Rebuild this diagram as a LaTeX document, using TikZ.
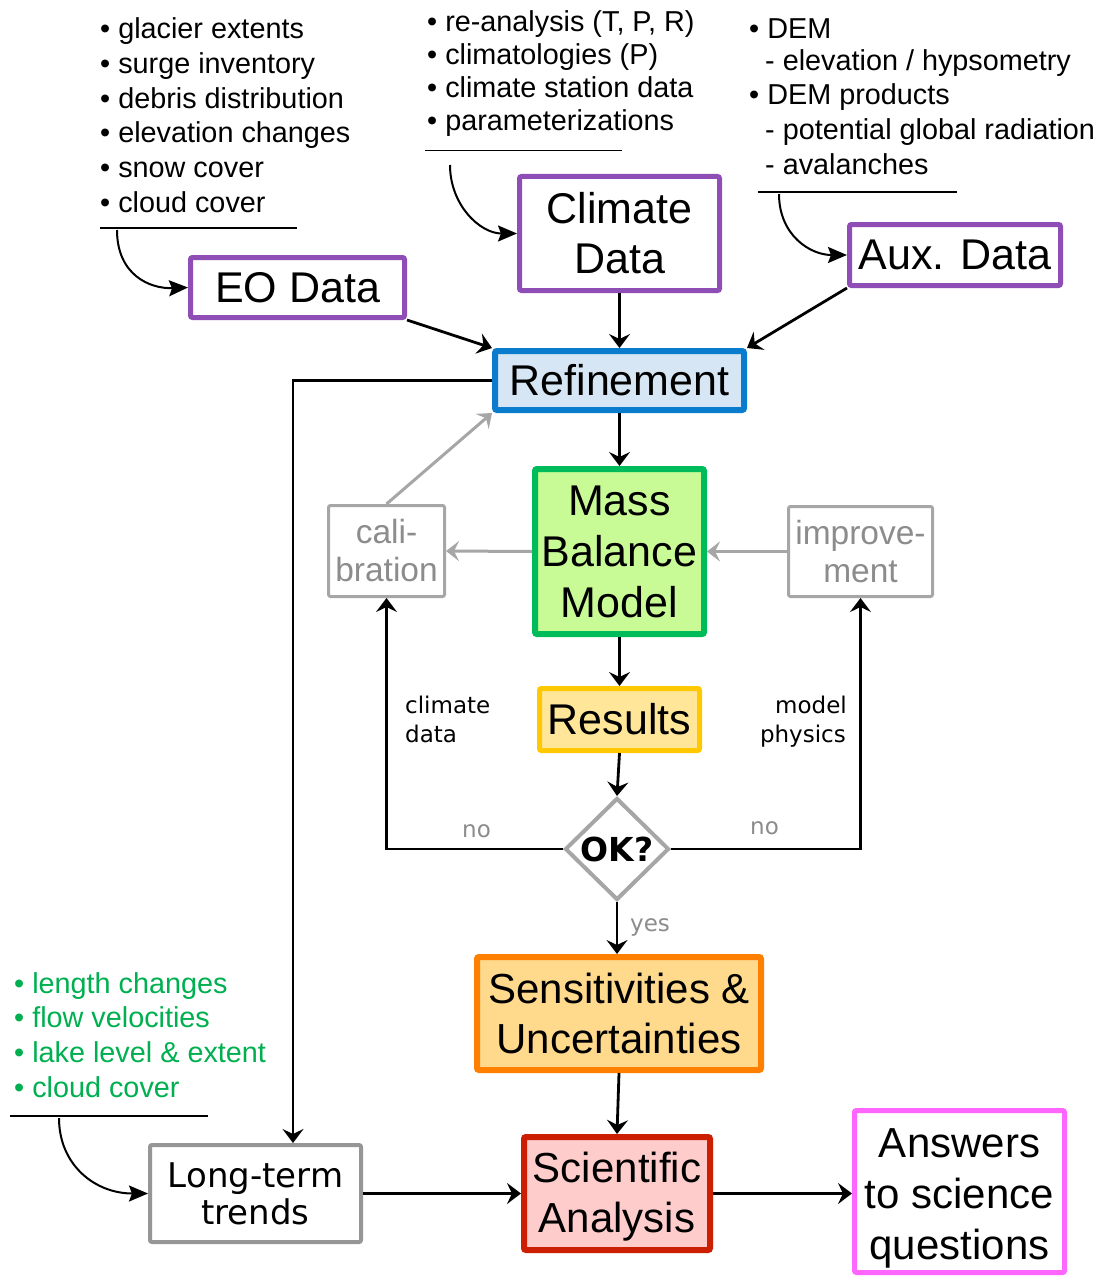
\documentclass[tikz,border=0pt]{standalone}
\usepackage{fontspec}
\setmainfont{Liberation Sans}
\newfontfamily\dv{DejaVu Sans}
\usetikzlibrary{arrows.meta,shapes.geometric}
\definecolor{purp}{RGB}{142,78,182}
\definecolor{refb}{RGB}{10,124,205}
\definecolor{reff}{RGB}{214,230,244}
\definecolor{mbmb}{RGB}{0,187,90}
\definecolor{mbmf}{RGB}{200,250,150}
\definecolor{resb}{RGB}{255,200,0}
\definecolor{resf}{RGB}{255,230,153}
\definecolor{sensb}{RGB}{255,128,0}
\definecolor{sensf}{RGB}{255,217,140}
\definecolor{scib}{RGB}{204,30,0}
\definecolor{scif}{RGB}{255,204,204}
\definecolor{ansb}{RGB}{255,102,255}
\definecolor{grayb}{RGB}{166,166,166}
\definecolor{grayd}{RGB}{150,150,150}
\definecolor{grayt}{RGB}{140,140,140}
\definecolor{greent}{RGB}{0,176,80}
\begin{document}
\begin{tikzpicture}[x=1pt,y=-1pt,
  box/.style={draw, rounded corners=2pt, inner sep=0pt, align=center, text=black},
  big/.style={font=\fontsize{43}{50}\selectfont},
  item/.style={anchor=base west, inner sep=0pt, font=\fontsize{28.8}{34}\selectfont},
  lbl/.style={inner sep=0pt, font=\dv\fontsize{23}{29}\selectfont},
  arr/.style={line width=2.8pt, -{Stealth[length=14pt,width=21pt,inset=5pt]}},
  garr/.style={line width=3pt, draw=grayb, -{Stealth[length=13pt,width=20pt,inset=5pt]}},
  carr/.style={line width=2pt, -{Stealth[length=19pt,width=16pt,inset=3pt]}},
  rulel/.style={line width=1.5pt},
]
\fill[white] (0,0) rectangle (1099,1276);
\useasboundingbox (0,0) rectangle (1099,1276);

% boxes
\node[box, big, draw=purp, line width=5pt, minimum width=214pt, minimum height=60pt] (eo) at (297.5,287.5) {EO Data};
\node[box, big, draw=purp, line width=5pt, minimum width=200pt, minimum height=114pt] (climate) at (619.5,233.5) {Climate\\Data};
\node[box, big, draw=purp, line width=5pt, minimum width=211pt, minimum height=61pt] (aux) at (955,255) {Aux. Data};
\node[box, big, draw=refb, fill=reff, line width=6pt, minimum width=249pt, minimum height=59pt] (refine) at (619.5,380.5) {Refinement};
\node[box, font=\fontsize{43}{51}\selectfont, draw=mbmb, fill=mbmf, line width=6pt, minimum width=169pt, minimum height=165pt] (mbm) at (619.5,551.5) {Mass\\Balance\\Model};
\node[box, font=\fontsize{33.5}{38}\selectfont, draw=grayb, text=grayt, line width=3pt, minimum width=116pt, minimum height=91pt] (cal) at (386.5,551) {cali-\\bration};
\node[box, font=\fontsize{33.5}{38}\selectfont, draw=grayb, text=grayt, line width=3pt, minimum width=144pt, minimum height=90pt] (imp) at (860.5,551.5) {improve-\\ment};
\node[box, big, draw=resb, fill=resf, line width=5pt, minimum width=160pt, minimum height=62pt] (res) at (619.5,719.5) {Results};
\node[shape=diamond, aspect=1, draw=grayb, line width=4pt, inner sep=0pt, minimum width=104pt, minimum height=102pt, font=\dv\bfseries\fontsize{33}{36}\selectfont] (ok) at (617,849) {OK?};
\node[box, font=\fontsize{42}{50}\selectfont, draw=sensb, fill=sensf, line width=6pt, minimum width=284pt, minimum height=113pt] (sens) at (619,1013.5) {Sensitivities \&\\Uncertainties};
\node[box, font=\fontsize{42}{50}\selectfont, draw=scib, fill=scif, line width=6pt, minimum width=186pt, minimum height=113pt] (sci) at (617,1193.5) {\rule{0pt}{37pt}Scientific\\Analysis};
\node[box, font=\fontsize{42}{51}\selectfont, draw=ansb, line width=5pt, minimum width=210pt, minimum height=162pt] (ans) at (959.5,1191.5) {\rule{0pt}{43pt}Answers\\to science\\questions};
\node[box, font=\dv\fontsize{34}{37}\selectfont, draw=grayd, line width=4pt, minimum width=211pt, minimum height=97pt] (ltt) at (255.5,1193.5) {Long-term\\trends};

% lists
\foreach \t [count=\i] in {glacier extents, surge inventory, debris distribution, elevation changes, snow cover, cloud cover}
  \node[item] (eol\i) at (100,{39+(\i-1)*34.6}) {• \t};
\foreach \t [count=\i] in {{re-analysis (T, P, R)}, {climatologies (P)}, climate station data, parameterizations}
  \node[item] (cll\i) at (427,{31.7+(\i-1)*32.8}) {• \t};
\node[item] (ax1) at (749,39) {• DEM};
\node[item] (ax2) at (765,70.7) {- elevation / hypsometry};
\node[item] (ax3) at (749,105) {• DEM products};
\node[item] (ax4) at (765,140) {- potential global radiation};
\node[item] (ax5) at (765,175) {- avalanches};
\foreach \t [count=\i] in {length changes, flow velocities, {lake level \& extent}, cloud cover}
  \node[item, text=greent] (gl\i) at (14,{993+(\i-1)*34.7}) {• \t};

% rules
\draw[rulel] (100,228) -- (297,228);
\draw[rulel] (425,150.5) -- (622,150.5);
\draw[rulel] (758,192) -- (957,192);
\draw[rulel] (10,1116) -- (208,1116);

% curved arrows
\coordinate (s1) at (117,230);
\coordinate (s2) at (450,165);
\coordinate (s3) at (779,194);
\coordinate (s4) at (59,1118);
\draw[carr] (s1) .. controls (117,275) and (150,289) .. (eo.west);
\draw[carr] (s2) .. controls (450,205) and (480,233.5) .. (climate.west);
\draw[carr] (s3) .. controls (779,235) and (810,255) .. (aux.west);
\draw[carr] (s4) .. controls (59,1165) and (95,1193.5) .. (ltt.west);

% connectors
\draw[arr] (eo.south east) -- (refine.north west);
\draw[arr] (climate.south) -- (refine.north);
\draw[arr] (aux.south west) -- (refine.north east);
\draw[arr] (refine.south) -- (mbm.north);
\draw[arr] (refine.west) -| ([xshift=37.5pt]ltt.north);
\draw[garr] (cal.north) -- (refine.south west);
\draw[garr] (mbm.west) -- (cal.east);
\draw[garr] (imp.west) -- (mbm.east);
\draw[arr] (mbm.south) -- (res.north);
\draw[arr] (res.south) -- (ok.north);
\draw[arr] (ok.west) -| (cal.south);
\draw[arr] (ok.east) -| (imp.south);
\draw[arr] (ok.south) -- (ok.south |- sens.north);
\draw[arr] (sens.south) -- (sci.north);
\draw[arr] (ltt.east) -- (sci.west);
\draw[arr] (sci.east) -- (sci.east -| ans.west);

% labels
\node[lbl, anchor=base west] (cd1) at (405,713) {climate};
\node[lbl, anchor=base west] (cd2) at (405,742) {data};
\node[lbl, anchor=base east] (mp1) at (847,713) {model};
\node[lbl, anchor=base east] (mp2) at (846,742) {physics};
\node[lbl, anchor=base west, text=grayt] (no1) at (462,837) {no};
\node[lbl, anchor=base west, text=grayt] (no2) at (750,834) {no};
\node[lbl, anchor=base west, text=grayt] (yes) at (630,931) {yes};
\end{tikzpicture}
\end{document}
